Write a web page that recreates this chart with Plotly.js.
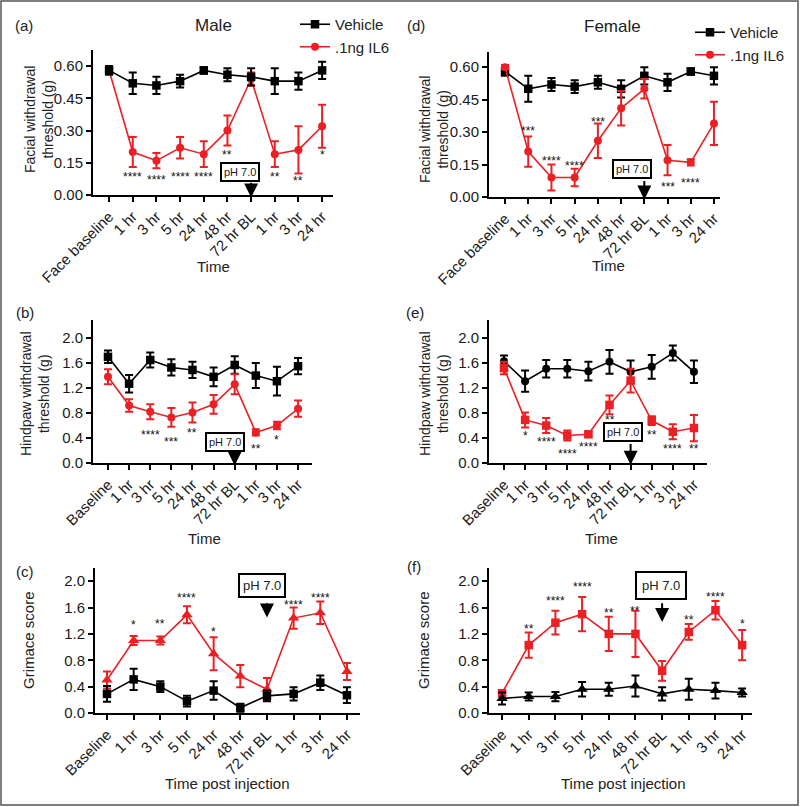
<!DOCTYPE html>
<html><head><meta charset="utf-8">
<script src="https://cdn.plot.ly/plotly-3.0.1.min.js"></script>
<style>html,body{margin:0;padding:0;background:#fff}</style>
</head><body><div id="chart" style="width:800px;height:807px"></div>
<script>
// ---------- data ----------
const catsFace = ['Face baseline','1 hr','3 hr','5 hr','24 hr','48 hr','72 hr BL','1 hr','3 hr','24 hr'];
const catsBase = ['Baseline','1 hr','3 hr','5 hr','24 hr','48 hr','72 hr BL','1 hr','3 hr','24 hr'];
const xIdx = [0,1,2,3,4,5,6,7,8,9];

// (a) Male facial
const maleFaceVeh    = [0.58,0.52,0.51,0.53,0.58,0.56,0.55,0.53,0.53,0.58];
const maleFaceVehErr = [0.02,0.05,0.04,0.03,0.015,0.03,0.04,0.06,0.04,0.04];
const maleFaceIL6    = [0.58,0.20,0.16,0.22,0.19,0.30,0.54,0.19,0.21,0.32];
const maleFaceIL6Err = [0.01,0.07,0.035,0.05,0.06,0.07,0.03,0.06,0.11,0.10];
const maleFaceStars  = ['','****','****','****','****','**','','**','**','*'];
const maleFaceStarY  = [null,0.10,0.085,0.10,0.10,0.20,null,0.10,0.077,0.20];

// (d) Female facial
const femFaceVeh    = [0.58,0.50,0.52,0.51,0.53,0.50,0.56,0.53,0.58,0.56];
const femFaceVehErr = [0.02,0.06,0.03,0.03,0.03,0.04,0.04,0.04,0.015,0.04];
const femFaceIL6    = [0.60,0.21,0.09,0.09,0.26,0.41,0.50,0.17,0.16,0.34];
const femFaceIL6Err = [0.01,0.07,0.06,0.04,0.08,0.08,0.045,0.07,0.015,0.10];
const femFaceStars  = ['','***','****','****','***','','','***','****',''];
const femFaceStarY  = [null,0.32,0.18,0.155,0.36,null,null,0.06,0.08,null];

// (b) Male hindpaw
const maleHindVeh    = [1.70,1.27,1.65,1.53,1.49,1.38,1.57,1.40,1.31,1.55];
const maleHindVehErr = [0.10,0.14,0.12,0.13,0.13,0.15,0.14,0.20,0.23,0.13];
const maleHindIL6    = [1.38,0.92,0.82,0.73,0.81,0.94,1.26,0.49,0.60,0.87];
const maleHindIL6Err = [0.12,0.10,0.12,0.15,0.16,0.15,0.16,0.05,0.06,0.13];
const maleHindStars  = ['','','****','***','**','','','**','*',''];
const maleHindStarY  = [null,null,0.49,0.38,0.53,null,null,0.28,0.42,null];

// (e) Female hindpaw
const femHindVeh    = [1.63,1.31,1.51,1.51,1.47,1.62,1.46,1.54,1.76,1.46];
const femHindVehErr = [0.09,0.17,0.14,0.14,0.15,0.19,0.18,0.19,0.12,0.18];
const femHindIL6    = [1.52,0.69,0.60,0.44,0.46,0.93,1.32,0.68,0.50,0.56];
const femHindIL6Err = [0.10,0.12,0.12,0.08,0.035,0.15,0.19,0.07,0.12,0.21];
const femHindStars  = ['','*','****','****','****','**','','**','****','**'];
const femHindStarY  = [null,0.48,0.38,0.20,0.31,0.73,null,0.49,0.27,0.28];

// (c) Male grimace
const maleGrimVeh    = [0.29,0.51,0.40,0.18,0.34,0.08,0.26,0.29,0.46,0.27];
const maleGrimVehErr = [0.12,0.16,0.08,0.08,0.14,0.06,0.08,0.10,0.11,0.12];
const maleGrimIL6    = [0.50,1.10,1.10,1.49,0.90,0.56,0.36,1.44,1.52,0.63];
const maleGrimIL6Err = [0.13,0.07,0.06,0.13,0.25,0.17,0.17,0.16,0.17,0.13];
const maleGrimStars  = ['','*','**','****','*','','','****','****',''];
const maleGrimStarY  = [null,1.38,1.40,1.79,1.27,null,null,1.69,1.79,null];

// (f) Female grimace
const femGrimVeh    = [0.22,0.25,0.25,0.36,0.36,0.41,0.29,0.36,0.34,0.31];
const femGrimVehErr = [0.09,0.06,0.07,0.11,0.10,0.16,0.10,0.16,0.12,0.06];
const femGrimIL6    = [0.30,1.03,1.37,1.50,1.20,1.20,0.64,1.23,1.56,1.03];
const femGrimIL6Err = [0.05,0.19,0.18,0.26,0.26,0.35,0.15,0.12,0.14,0.23];
const femGrimStars  = ['','**','****','****','**','**','','**','****','*'];
const femGrimStarY  = [null,1.32,1.74,1.95,1.56,1.59,null,1.46,1.81,1.40];

const seriesNames = ['Vehicle', '.1ng IL6'];
const phLabel = 'pH 7.0';

// ---------- layout helpers ----------
const W = 800, H = 807;
const px = v => v / W;
const py = v => 1 - v / H;
const RED = 'rgb(234,32,36)';
const BLACK = '#000';
const FONT = 'Liberation Sans, Arial, Helvetica, sans-serif';

const panels = [
  {cats:catsFace, veh:maleFaceVeh, vehErr:maleFaceVehErr, il6:maleFaceIL6, il6Err:maleFaceIL6Err,
   stars:maleFaceStars, starY:maleFaceStarY, xd:[93,333], yd:[50,195], xr:[-0.68,9.46], yr:[0,0.675],
   dtick:0.15, fmt:'.2f', vehSym:'square', redSym:'circle', redFirst:true, legend:'legend',
   box:[5.53,0.105], boxFont:11, boxPad:2, arrow:[-0.012,0.062]},
  {cats:catsBase, veh:maleHindVeh, vehErr:maleHindVehErr, il6:maleHindIL6, il6Err:maleHindIL6Err,
   stars:maleHindStars, starY:maleHindStarY, xd:[93,312], yd:[320,463], xr:[-0.71,9.66], yr:[0,2.29],
   dtick:0.4, fmt:'.1f', vehSym:'square', redSym:'circle', redFirst:false, legend:null,
   box:[5.55,0.336], boxFont:11, boxPad:2, arrow:[-0.04,0.17]},
  {cats:catsBase, veh:maleGrimVeh, vehErr:maleGrimVehErr, il6:maleGrimIL6, il6Err:maleGrimIL6Err,
   stars:maleGrimStars, starY:maleGrimStarY, xd:[95,360], yd:[568,713], xr:[-0.45,9.49], yr:[0,2.2],
   dtick:0.4, fmt:'.1f', vehSym:'square', redSym:'triangle-up', redFirst:true, legend:null,
   box:[5.82,1.94], boxFont:13, boxPad:3, arrow:[1.45,1.68]},
  {cats:catsFace, veh:femFaceVeh, vehErr:femFaceVehErr, il6:femFaceIL6, il6Err:femFaceIL6Err,
   stars:femFaceStars, starY:femFaceStarY, xd:[489,720], yd:[52,197], xr:[-0.69,9.26], yr:[0,0.67],
   dtick:0.15, fmt:'.2f', vehSym:'square', redSym:'circle', redFirst:false, legend:'legend2',
   box:[5.47,0.13], boxFont:11, boxPad:2, arrow:[-0.012,0.078]},
  {cats:catsBase, veh:femHindVeh, vehErr:femHindVehErr, il6:femHindIL6, il6Err:femHindIL6Err,
   stars:femHindStars, starY:femHindStarY, xd:[489,707], yd:[320,463], xr:[-0.71,9.62], yr:[0,2.29],
   dtick:0.4, fmt:'.1f', vehSym:'circle', redSym:'square', redFirst:false, legend:null,
   box:[5.66,0.49], boxFont:11, boxPad:2, arrow:[-0.03,0.32]},
  {cats:catsBase, veh:femGrimVeh, vehErr:femGrimVehErr, il6:femGrimIL6, il6Err:femGrimIL6Err,
   stars:femGrimStars, starY:femGrimStarY, xd:[489,752], yd:[568,713], xr:[-0.49,9.37], yr:[0,2.2],
   dtick:0.4, fmt:'.1f', vehSym:'triangle-up', redSym:'square', redFirst:true, legend:null,
   box:[5.97,1.94], boxFont:13, boxPad:5, arrow:[1.38,1.68]}
];

const symSize = {'square':8.5, 'circle':8, 'triangle-up':10};

const data = [];
const layout = {
  width: W, height: H,
  margin: {l:0, r:0, t:0, b:0, autoexpand:false},
  paper_bgcolor: '#fff', plot_bgcolor: 'rgba(0,0,0,0)',
  font: {family: FONT, size: 14, color: '#222'},
  showlegend: true,
  annotations: [], shapes: []
};

panels.forEach((p, k) => {
  const sfx = k === 0 ? '' : String(k + 1);
  const xa = 'x' + sfx, ya = 'y' + sfx;
  const mk = (name, y, err, color, sym, rank) => ({
    type: 'scatter', mode: 'lines+markers', x: xIdx, y: y, name: name,
    xaxis: xa, yaxis: ya, cliponaxis: false,
    line: {color: color, width: 1.6},
    marker: {symbol: sym, size: symSize[sym], color: color},
    error_y: {type: 'data', array: err, visible: true, color: color, thickness: 2, width: 4},
    showlegend: !!p.legend, legend: p.legend || 'legend', legendrank: rank,
    legendgroup: 'panel' + k,
    hoverinfo: 'skip'
  });
  const tv = mk(seriesNames[0], p.veh, p.vehErr, BLACK, p.vehSym, 1);
  const tr = mk(seriesNames[1], p.il6, p.il6Err, RED, p.redSym, 2);
  if (p.redFirst) { data.push(tr, tv); } else { data.push(tv, tr); }

  layout['xaxis' + sfx] = {
    domain: [px(p.xd[0]), px(p.xd[1])], anchor: ya, range: p.xr,
    tickmode: 'array', tickvals: xIdx, ticktext: p.cats, tickangle: -45,
    showline: true, linecolor: BLACK, linewidth: 2, ticks: 'outside', ticklen: 5, tickwidth: 2,
    tickcolor: BLACK, showgrid: false, zeroline: false, fixedrange: true,
    tickfont: {size: 15, color: '#1a1a1a', family: FONT}
  };
  layout['yaxis' + sfx] = {
    domain: [py(p.yd[1]), py(p.yd[0])], anchor: xa, range: p.yr,
    tickmode: 'linear', tick0: 0, dtick: p.dtick, tickformat: p.fmt,
    showline: true, linecolor: BLACK, linewidth: 2, ticks: 'outside', ticklen: 5, tickwidth: 2,
    tickcolor: BLACK, showgrid: false, zeroline: false, fixedrange: true,
    tickfont: {size: 15, color: '#1a1a1a', family: FONT}
  };

  // significance stars
  p.stars.forEach((s, i) => {
    if (!s) return;
    layout.annotations.push({xref: xa, yref: ya, x: xIdx[i], y: p.starY[i], text: s, showarrow: false,
      font: {size: 12, color: '#111'}, yshift: -3});
  });
  // pH 7.0 box and arrow
  layout.annotations.push({xref: xa, yref: ya, x: p.box[0], y: p.box[1], text: phLabel, showarrow: false,
    bordercolor: BLACK, borderwidth: 2, borderpad: p.boxPad, bgcolor: '#fff',
    font: {size: p.boxFont, color: '#222'}});
  layout.annotations.push({xref: xa, yref: ya, x: xIdx[6], y: p.arrow[0], axref: xa, ayref: ya,
    ax: xIdx[6], ay: p.arrow[1], text: ' ', font: {size: 1}, borderpad: 0,
    showarrow: true, arrowhead: 2, arrowsize: 1.4, arrowwidth: 2, arrowcolor: BLACK});
});

// panel labels, titles, axis titles (paper coordinates)
const paperText = (x, y, text, size, extra) => Object.assign({xref: 'paper', yref: 'paper', x: px(x), y: py(y),
  text: text, showarrow: false, xanchor: 'center', yanchor: 'middle', font: {size: size, color: '#222'}}, extra || {});
layout.annotations.push(
  paperText(24, 25, '(a)', 15), paperText(416, 25, '(d)', 15),
  paperText(25, 312, '(b)', 15), paperText(415, 313, '(e)', 15),
  paperText(25, 571, '(c)', 15), paperText(414, 566, '(f)', 15),
  paperText(213, 25, 'Male', 17), paperText(612, 27, 'Female', 17),
  paperText(213, 266, 'Time', 15), paperText(608, 265, 'Time', 15),
  paperText(204, 538, 'Time', 15), paperText(601, 538, 'Time', 15),
  paperText(228, 783, 'Time post injection', 15), paperText(623, 783, 'Time post injection', 15),
  paperText(39, 120, 'Facial withdrawal<br>threshold (g)', 14, {textangle: -90}),
  paperText(434, 130, 'Facial withdrawal<br>threshold (g)', 14, {textangle: -90}),
  paperText(35, 394, 'Hindpaw withdrawal<br>threshold (g)', 14, {textangle: -90}),
  paperText(434, 394, 'Hindpaw withdrawal<br>threshold (g)', 14, {textangle: -90}),
  paperText(28, 640, 'Grimace score', 15, {textangle: -90}),
  paperText(423, 640, 'Grimace score', 15, {textangle: -90})
);

const legendBase = {xanchor: 'left', yanchor: 'top', font: {size: 15, color: '#222', family: FONT},
  bgcolor: 'rgba(0,0,0,0)', borderwidth: 0, itemwidth: 30, tracegroupgap: 0, traceorder: 'normal'};
layout.legend = Object.assign({x: px(295), y: py(8)}, legendBase);
layout.legend2 = Object.assign({x: px(690), y: py(16)}, legendBase);

layout.shapes.push({type: 'rect', xref: 'paper', yref: 'paper', x0: px(1), x1: px(798), y0: py(805), y1: py(1),
  line: {color: '#555', width: 1.5}, fillcolor: 'rgba(0,0,0,0)'});

Plotly.newPlot('chart', data, layout, {staticPlot: true, displayModeBar: false});
</script></body></html>
